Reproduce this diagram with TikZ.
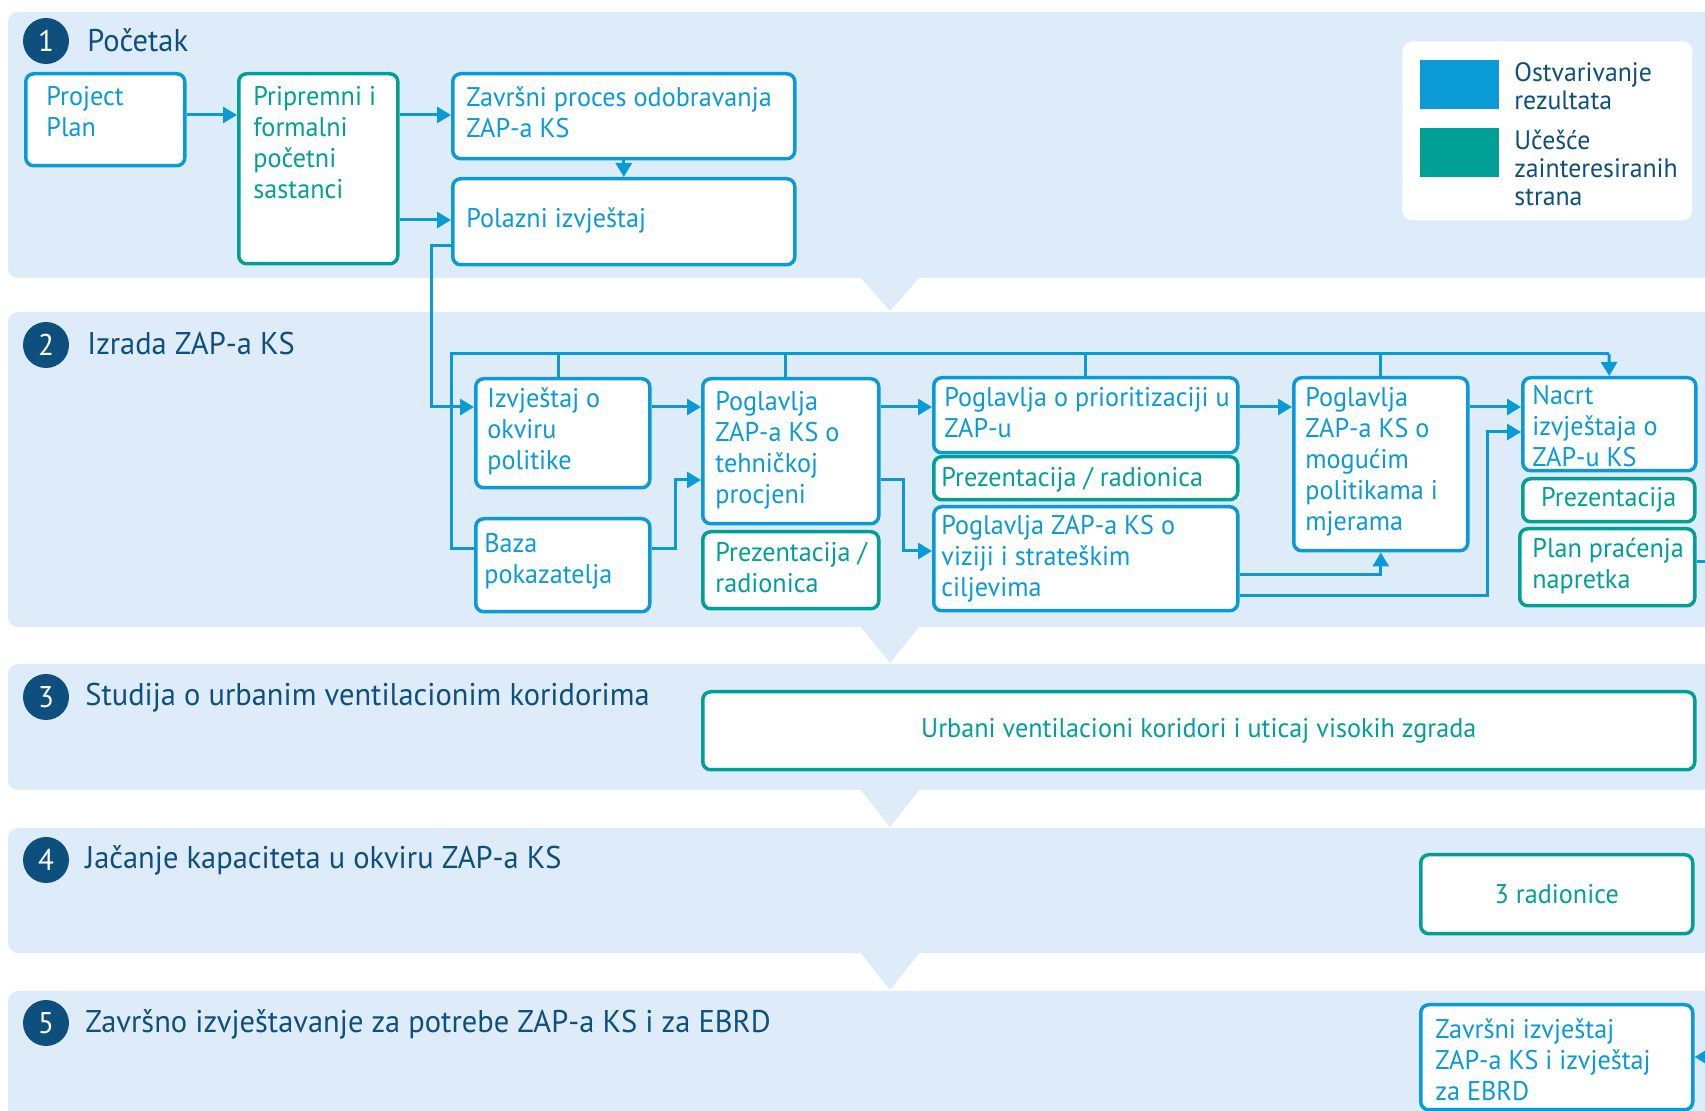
\documentclass[tikz,border=0pt]{standalone}
\usepackage{fontspec}
\setmainfont{PT Sans}[FakeStretch=0.97]
\usetikzlibrary{arrows.meta}
\definecolor{bandc}{HTML}{DEEBF9}
\definecolor{navy}{HTML}{0D4F7D}
\definecolor{bluec}{HTML}{0A9AD6}
\definecolor{tealc}{HTML}{00A096}
\tikzset{
  band/.style={fill=bandc, draw=none, rounded corners=5pt},
  bbox/.style={draw=bluec, line width=1.75pt, fill=white, rounded corners=4pt, inner sep=0pt, anchor=north west},
  tbox/.style={bbox, draw=tealc},
  btxt/.style={text=bluec, font=\fontsize{13.5}{15.5}\selectfont, align=left, inner sep=0pt, anchor=north west},
  ttxt/.style={btxt, text=tealc},
  conn/.style={draw=bluec, line width=1.5pt},
  arr/.style={conn, -{Triangle[length=7pt,width=8pt]}},
  num/.style={circle, fill=navy, text=white, minimum size=23pt, inner sep=0pt, font=\fontsize{15}{18}\selectfont},
  ttl/.style={text=navy, font=\fontsize{15.7}{18}\selectfont, anchor=base west, inner sep=0pt},
  legtxt/.style={text=navy, font=\fontsize{13.3}{14}\selectfont, align=left, inner sep=0pt, anchor=north west},
}
\begin{document}
\begin{tikzpicture}[x=0.5pt,y=-0.5pt]
\useasboundingbox (0,0) rectangle (1705,1111);
\clip (0,0) rectangle (1705,1111);
% bands
\fill[band] (8,12) rectangle (1730,278);
\fill[band] (8,312) rectangle (1730,627);
\fill[band] (8,664) rectangle (1730,790);
\fill[band] (8,828) rectangle (1730,953);
\fill[band] (8,991) rectangle (1730,1140);
% pointers
\fill[bandc] (860,277) -- (920,277) -- (890,311) -- cycle;
\fill[bandc] (860,626) -- (920,626) -- (890,663) -- cycle;
\fill[bandc] (860,789) -- (920,789) -- (890,827) -- cycle;
\fill[bandc] (860,952) -- (920,952) -- (890,990) -- cycle;
% numbers and titles
\node[num] (n1) at (46,41) {1};
\node[num] (n2) at (46,345) {2};
\node[num] (n3) at (46,697) {3};
\node[num] (n4) at (46,860) {4};
\node[num] (n5) at (46,1023) {5};
\node[ttl] (t1) at (87,52) {Početak};
\node[ttl] (t2) at (87,355) {Izrada ZAP-a KS};
\node[ttl] (t3) at (85,706) {Studija o urbanim ventilacionim koridorima};
\node[ttl] (t4) at (85,869) {Jačanje kapaciteta u okviru ZAP-a KS};
\node[ttl] (t5) at (85,1033) {Završno izvještavanje za potrebe ZAP-a KS i za EBRD};
% legend
\node[fill=white, rounded corners=5pt, minimum width=145pt, minimum height=89.5pt, anchor=north west, inner sep=0pt] (leg) at (1402,41) {};
\node[fill=bluec, minimum width=39.5pt, minimum height=24.5pt, anchor=north west, inner sep=0pt] (lb) at (1420,60) {};
\node[fill=tealc, minimum width=39.5pt, minimum height=24.5pt, anchor=north west, inner sep=0pt] (lt) at (1420,128) {};
\node[legtxt] (lbt) at (1514,62) {Ostvarivanje\\rezultata};
\node[legtxt] (ltt) at (1514,130) {Učešće\\zainteresiranih\\strana};
% band 1 boxes
\node[bbox, minimum width=79.5pt, minimum height=46pt] (pp) at (24,72) {};
\node[tbox, minimum width=79.5pt, minimum height=95pt] (pf) at (237,72) {};
\node[bbox, minimum width=171pt, minimum height=42.5pt] (zp) at (451,72) {};
\node[bbox, minimum width=171pt, minimum height=43pt] (pi) at (451,177) {};
\node[btxt] (ppt) at (46,86) {Project\\Plan};
\node[ttxt] (pft) at (253,86) {Pripremni i\\formalni\\početni\\sastanci};
\node[btxt] (zpt) at (466,86) {Završni proces odobravanja\\ZAP-a KS};
\node[btxt] (pit) at (466,207) {Polazni izvještaj};
% band 2 boxes
\node[bbox, minimum width=87pt, minimum height=54.5pt] (io) at (474,377) {};
\node[bbox, minimum width=87pt, minimum height=46.5pt] (bp) at (474,517) {};
\node[bbox, minimum width=88pt, minimum height=72.5pt] (tp) at (701,377) {};
\node[tbox, minimum width=88pt, minimum height=38.5pt] (pr1) at (701,530) {};
\node[bbox, minimum width=152pt, minimum height=37.5pt] (pz) at (932,376) {};
\node[tbox, minimum width=152pt, minimum height=21.5pt] (pr2) at (932,455) {};
\node[bbox, minimum width=152pt, minimum height=52pt] (vs) at (932,505) {};
\node[bbox, minimum width=87pt, minimum height=86.5pt] (mp) at (1292,376) {};
\node[bbox, minimum width=86.5pt, minimum height=46.5pt] (nc) at (1521,376) {};
\node[tbox, minimum width=86pt, minimum height=21.5pt] (pr3) at (1521,477) {};
\node[tbox, minimum width=87.5pt, minimum height=38.5pt] (ppn) at (1518,527) {};
\node[btxt] (iot) at (487,387) {Izvještaj o\\okviru\\politike};
\node[btxt] (bpt) at (484,533) {Baza\\pokazatelja};
\node[btxt] (tpt) at (715,391) {Poglavlja\\ZAP-a KS o\\tehničkoj\\procjeni};
\node[ttxt] (pr1t) at (715,542) {Prezentacija /\\radionica};
\node[btxt] (pzt) at (944,387) {Poglavlja o prioritizaciji u\\ZAP-u};
\node[ttxt] (pr2t) at (941,467) {Prezentacija / radionica};
\node[btxt] (vst) at (941,515) {Poglavlja ZAP-a KS o\\viziji i strateškim\\ciljevima};
\node[btxt] (mpt) at (1305,387) {Poglavlja\\ZAP-a KS o\\mogućim\\politikama i\\mjerama};
\node[btxt] (nct) at (1532,385) {Nacrt\\izvještaja o\\ZAP-u KS};
\node[ttxt, anchor=center] (pr3t) at (pr3.center) {Prezentacija};
\node[ttxt] (ppnt) at (1532,538) {Plan praćenja\\napretka};
% band 3,4,5 boxes
\node[tbox, minimum width=496pt, minimum height=39pt] (uv) at (701,690) {};
\node[ttxt, anchor=center] (uvt) at (uv.center) {Urbani ventilacioni koridori i uticaj visokih zgrada};
\node[tbox, minimum width=136pt, minimum height=39.5pt] (r3) at (1419,853) {};
\node[ttxt, anchor=center] (r3t) at (r3.center) {3 radionice};
\node[bbox, minimum width=136pt, minimum height=52.5pt] (zi) at (1419,1003) {};
\node[btxt] (zit) at (1435,1018) {Završni izvještaj\\ZAP-a KS i izvještaj\\za EBRD};
% connectors band 1
\draw[arr] (pp.east |- 0,115) -- (pf.west |- 0,115);
\draw[arr] (pf.east |- 0,115) -- (zp.west |- 0,115);
\draw[arr] (pf.east |- 0,220) -- (pi.west |- 0,220);
\draw[arr] (zp.south) -- (pi.north);
% from Polazni to Izvjestaj
\draw[arr] (pi.west |- 0,246) -- (431,246) -- (431,407) -- (io.west |- 0,407);
% bus
\draw[conn] (bp.west |- 0,549) -- (451,549) -- (451,354) -- (1609,354);
\draw[arr] (1609,354) -- (nc.north);
\draw[conn] ([xshift=-2pt]io.north) -- ([xshift=-2pt]io.north |- 0,354);
\draw[conn] ([xshift=-2.5pt]tp.north) -- ([xshift=-2.5pt]tp.north |- 0,354);
\draw[conn] (pz.north) -- (pz.north |- 0,354);
\draw[conn] (mp.north) -- (mp.north |- 0,354);
% band 2 flow
\draw[arr] (io.east |- 0,407) -- (tp.west |- 0,407);
\draw[arr] (bp.east |- 0,549) -- (675,549) -- (675,480) -- (tp.west |- 0,480);
\draw[arr] (tp.east |- 0,407) -- (pz.west |- 0,407);
\draw[arr] (tp.east |- 0,480) -- (903,480) -- (903,551) -- (vs.west |- 0,551);
\draw[arr] (pz.east |- 0,407) -- (mp.west |- 0,407);
\draw[arr] (mp.east |- 0,407) -- (nc.west |- 0,407);
\draw[arr] (vs.east |- 0,575) -- (mp.south |- 0,575) -- (mp.south);
\draw[arr] (vs.east |- 0,596) -- (1487,596) -- (1487,432) -- (nc.west |- 0,432);
\draw[arr] (ppn.east |- 0,562) -- (1730,562) -- (1730,1057) -- (zi.east |- 0,1057);
\end{tikzpicture}
\end{document}
